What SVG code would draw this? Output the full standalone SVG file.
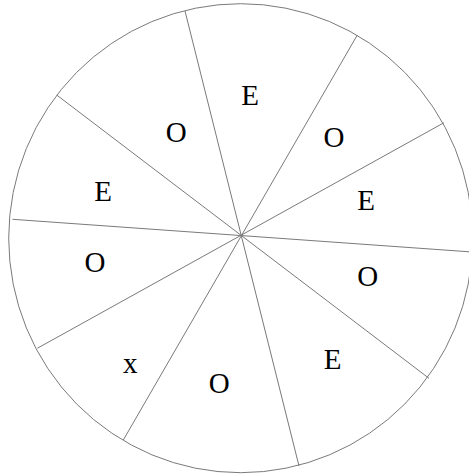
<svg xmlns="http://www.w3.org/2000/svg" width="469" height="476" viewBox="0 0 469 476">
<style>
.s{stroke:#7a7a7a;stroke-width:1;fill:none}
text{font-family:"Liberation Serif","Times New Roman",serif;font-size:29px;fill:#000;text-anchor:middle}
</style>
<rect width="469" height="476" fill="#fff"/>
<g id="wheel">
<ellipse class="s" cx="240.7" cy="238.2" rx="232" ry="234.5"/>
</g>
<g id="connectors">
<line class="s" x1="185" y1="11" x2="299" y2="466"/>
<line class="s" x1="357.3" y1="35" x2="123.3" y2="440"/>
<line class="s" x1="444" y1="122.7" x2="37.3" y2="348.3"/>
<line class="s" x1="472" y1="252" x2="12.5" y2="219.3"/>
<line class="s" x1="429" y1="378.3" x2="56.7" y2="95"/>
</g>
<g id="labels">
<text x="250" y="104.5">E</text>
<text x="176.3" y="142.3">O</text>
<text x="334" y="147.3">O</text>
<text x="103" y="200.7">E</text>
<text x="366" y="210">E</text>
<text x="95" y="272.3">O</text>
<text x="367.7" y="286.3">O</text>
<text x="130.3" y="373.3">x</text>
<text x="219.3" y="393.3">O</text>
<text x="332.7" y="368.7">E</text>
</g>
</svg>
